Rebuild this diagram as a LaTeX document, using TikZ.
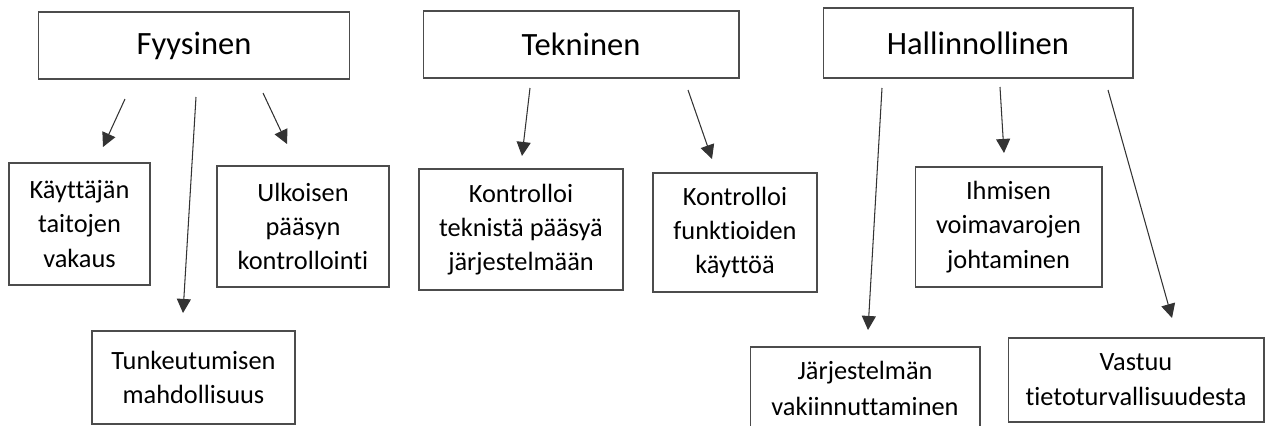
\documentclass[tikz,border=0pt]{standalone}
\usepackage{fontspec}
\setmainfont{Carlito}[Ligatures=NoCommon]
\usetikzlibrary{arrows.meta}

\begin{document}
\begin{tikzpicture}[x=0.02cm,y=-0.02cm]
\tikzstyle{every node}+=[inner sep=0pt]
\tikzstyle{box}=[draw=black!70,line width=0.6pt,align=center,font=\fontsize{15}{19.5}\selectfont]
\tikzstyle{head}=[box,font=\fontsize{18.5}{22}\selectfont]
\tikzstyle{arr}=[black!80,line width=0.6pt,-{Triangle[length=8pt,width=8pt]}]
\useasboundingbox (0,0) rectangle (1265,426);
\clip (0,0) rectangle (1265,426);
% top row
\node [head,minimum width=6.24cm,minimum height=1.34cm] (fyys) at (194,45.5) {Fyysinen};
\node [head,minimum width=6.32cm,minimum height=1.34cm] (tekn) at (581,44.5) {Tekninen};
\node [head,minimum width=6.2cm,minimum height=1.4cm] (hall) at (978,43) {Hallinnollinen};
% second row
\node [box,minimum width=2.82cm,minimum height=2.44cm] (kayt) at (79.5,224) {Käyttäjän\\taitojen\\vakaus};
\node [box,minimum width=3.44cm,minimum height=2.42cm] (ulko) at (303,226.5) {Ulkoisen\\pääsyn\\kontrollointi};
\node [box,minimum width=4.08cm,minimum height=2.42cm] (ktek) at (521,229.5) {Kontrolloi\\teknistä pääsyä\\järjestelmään};
\node [box,minimum width=3.28cm,minimum height=2.38cm] (kfun) at (735,232.5) {Kontrolloi\\funktioiden\\käyttöä};
\node [box,minimum width=3.74cm,minimum height=2.4cm] (ihm) at (1008.5,227) {Ihmisen\\voimavarojen\\johtaminen};
% bottom row
\node [box,minimum width=4.06cm,minimum height=1.86cm] (tunk) at (193.5,377.5) {Tunkeutumisen\\mahdollisuus};
\node [box,minimum width=4.6cm,minimum height=1.64cm,font=\fontsize{15}{20.5}\selectfont] (jarj) at (865,388) {Järjestelmän\\vakiinnuttaminen};
\node [box,minimum width=5.12cm,minimum height=1.68cm,font=\fontsize{15}{20}\selectfont] (vast) at (1136,380) {Vastuu\\tietoturvallisuudesta};
% arrow ends
\coordinate (fyys-1) at (125,99);  \coordinate (kayt-in) at (103,147);
\coordinate (fyys-2) at (196,97);  \coordinate (tunk-in) at (183,313);
\coordinate (fyys-3) at (263,93);  \coordinate (ulko-in) at (287,144);
\coordinate (tekn-1) at (530,88);  \coordinate (ktek-in) at (522,156);
\coordinate (tekn-2) at (688,90);  \coordinate (kfun-in) at (712,159);
\coordinate (hall-1) at (882,88);  \coordinate (jarj-in) at (868,330);
\coordinate (hall-2) at (1000,87); \coordinate (ihm-in) at (1004,153);
\coordinate (hall-3) at (1108,90); \coordinate (vast-in) at (1172,318);
\draw [arr] (fyys-1) -- (kayt-in);
\draw [arr] (fyys-2) -- (tunk-in);
\draw [arr] (fyys-3) -- (ulko-in);
\draw [arr] (tekn-1) -- (ktek-in);
\draw [arr] (tekn-2) -- (kfun-in);
\draw [arr] (hall-1) -- (jarj-in);
\draw [arr] (hall-2) -- (ihm-in);
\draw [arr] (hall-3) -- (vast-in);
\end{tikzpicture}
\end{document}
